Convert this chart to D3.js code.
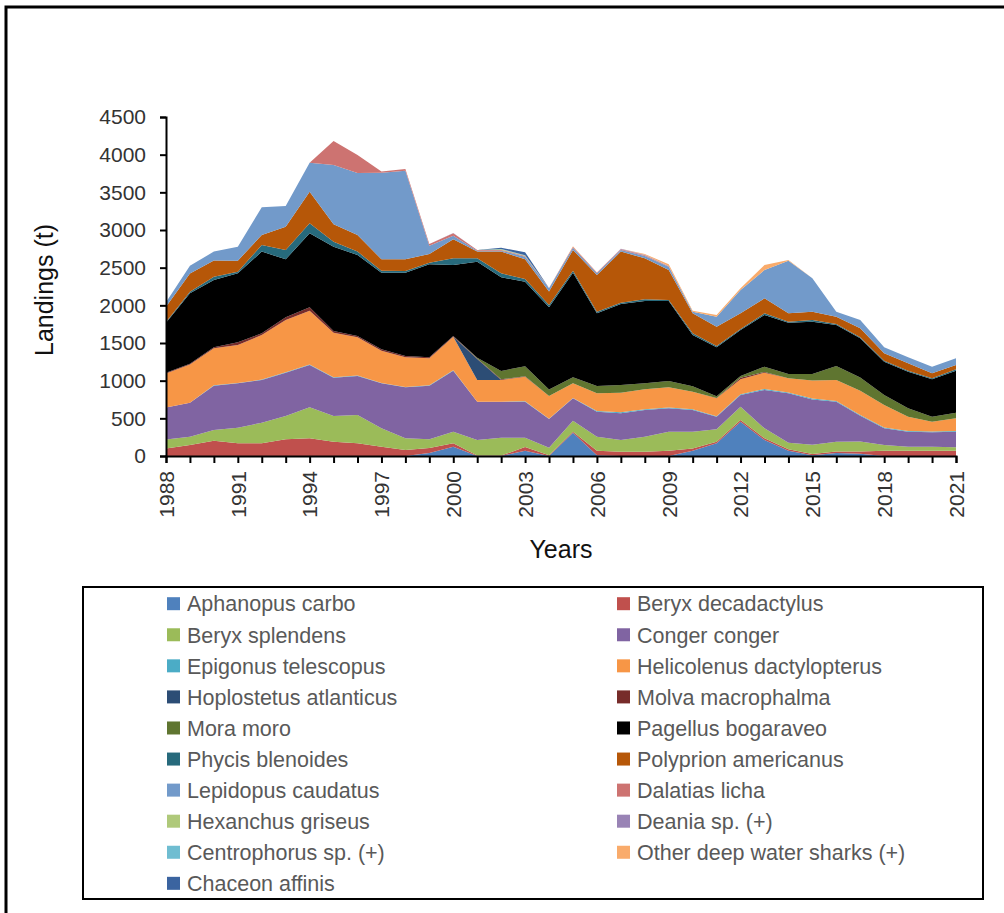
<!DOCTYPE html>
<html>
<head>
<meta charset="utf-8">
<script src="https://cdn.jsdelivr.net/npm/d3@7"></script>
<style>
  body { margin: 0; background: #fff; }
  svg { display: block; font-family: "Liberation Sans", Arial, sans-serif; }
</style>
</head>
<body>
<div id="chart"></div>
<script>
// years on the x axis
const years = d3.range(1988, 2022);
const yTicks = [0, 500, 1000, 1500, 2000, 2500, 3000, 3500, 4000, 4500];
const xTickLabels = [1988, 1991, 1994, 1997, 2000, 2003, 2006, 2009, 2012, 2015, 2018, 2021];

// species, in stacking order (bottom first)
const species = [
  'Aphanopus carbo', 'Beryx decadactylus', 'Beryx splendens', 'Conger conger',
  'Epigonus telescopus', 'Helicolenus dactylopterus', 'Hoplostetus atlanticus',
  'Molva macrophalma', 'Mora moro', 'Pagellus bogaraveo', 'Phycis blenoides',
  'Polyprion americanus', 'Lepidopus caudatus', 'Dalatias licha', 'Hexanchus griseus',
  'Deania sp. (+)', 'Centrophorus sp. (+)', 'Other deep water sharks (+)', 'Chaceon affinis'
];

const colors = [
  '#4f81bd', '#c0504d', '#9bbb59', '#8064a2', '#4bacc6', '#f79646', '#2c4d75',
  '#772c2a', '#5f7530', '#000000', '#276a7c', '#b65708', '#729aca', '#cd7371',
  '#afc97a', '#9983b5', '#6fbdd1', '#f9ab6b', '#3b64a0'
];

// landings (t) per year, 1988-2021
const aphanopus   = [0,0,0,0,0,0,0,0,0,0,0,40,124,0,0,70,0,310,10,0,0,0,70,168,456,212,71,10,40,30,0,0,0,0];
const beryxDec    = [100,146,204,168,168,221,235,190,168,124,80,65,44,5,5,50,10,13,60,57,57,70,30,22,22,23,17,17,20,30,70,70,70,70];
const beryxSpl    = [120,110,140,208,274,310,411,341,376,243,155,116,155,207,238,123,100,146,187,155,200,253,221,164,177,132,89,124,130,134,76,54,54,45];
const conger      = [425,450,590,589,567,575,562,509,518,598,677,713,810,509,478,478,380,297,331,354,354,310,288,168,155,509,655,598,531,340,221,199,190,208];
const epigonus    = [0,0,5,5,5,5,5,5,5,5,5,5,5,0,0,5,5,5,10,15,10,10,10,5,10,15,10,15,10,10,10,10,10,10];
const helicolenus = [450,510,490,503,592,694,716,592,508,428,393,358,446,288,288,327,301,194,234,260,264,269,233,238,198,215,189,237,278,322,300,189,132,167];
const hoplostetus = [0,0,0,0,0,0,0,0,0,0,0,0,0,280,0,0,0,0,0,0,0,0,0,0,0,0,0,0,0,0,0,0,0,0];
const molva       = [10,10,15,36,22,36,45,22,18,18,17,15,10,5,10,5,0,0,0,0,0,0,0,5,22,10,0,0,0,0,0,0,0,0];
const mora        = [0,0,0,0,0,0,0,0,0,0,0,0,0,10,110,133,88,79,97,102,80,84,75,22,22,70,58,88,186,177,133,111,66,75];
const pagellus    = [665,933,892,916,1085,770,982,1120,1075,1018,1107,1232,942,1276,1243,1123,1090,1390,965,1075,1093,1062,679,651,611,686,681,694,544,519,442,487,496,558];
const phycis      = [10,20,45,22,88,124,133,66,45,26,22,22,88,44,53,36,30,26,22,17,22,13,22,17,13,22,13,22,13,13,14,13,13,17];
const polyprion   = [200,245,213,146,133,309,420,230,221,151,155,115,252,89,288,261,178,275,487,678,544,398,266,257,208,199,111,111,98,120,97,97,66,58];
const lepidopus   = [60,100,120,186,367,275,385,788,823,1150,1177,110,49,10,13,35,44,31,22,22,31,44,22,133,310,376,699,443,66,110,80,80,89,89];
const dalatias    = [0,0,0,0,0,0,0,319,239,14,22,22,31,10,10,10,5,13,10,10,10,5,0,0,0,0,0,0,0,0,0,0,0,0];
const hexanchus   = [0,0,0,0,0,0,0,0,0,0,0,0,0,0,8,5,0,0,0,0,0,0,0,0,0,0,0,0,0,0,0,0,0,0];
const deania      = [0,0,0,0,0,0,0,0,0,0,0,0,5,0,0,0,0,0,0,5,5,5,0,0,0,0,0,0,0,0,0,0,0,0];
const centrophorus= [0,0,0,0,0,0,0,0,0,0,0,0,0,0,5,5,0,0,0,0,0,0,0,0,0,0,0,0,0,0,0,0,0,0];
const otherSharks = [0,0,0,0,0,0,0,0,0,0,0,0,0,0,0,0,0,5,0,0,10,23,13,22,22,67,9,0,0,0,0,0,0,0];
const chaceon     = [0,0,0,0,0,0,0,0,0,0,0,0,0,0,15,40,0,0,0,0,0,0,0,0,0,0,0,0,0,0,0,0,0,0];

const series = [aphanopus, beryxDec, beryxSpl, conger, epigonus, helicolenus, hoplostetus,
  molva, mora, pagellus, phycis, polyprion, lepidopus, dalatias, hexanchus, deania,
  centrophorus, otherSharks, chaceon];

const table = years.map((yr, i) => {
  const row = { year: yr };
  species.forEach((s, k) => { row[s] = series[k][i]; });
  return row;
});

const width = 1004, height = 913;
const svg = d3.select('#chart').append('svg')
  .attr('width', width)
  .attr('height', height);

// outer frame (only top and left edges visible)
svg.append('rect')
  .attr('x', 6).attr('y', 7)
  .attr('width', 1100).attr('height', 1000)
  .attr('fill', 'none')
  .attr('stroke', '#000')
  .attr('stroke-width', 3);

const x = d3.scaleLinear().domain([1988, 2021]).range([166, 956]);
const y = d3.scaleLinear().domain([0, 4500]).range([456, 117]);

const stacked = d3.stack().keys(species)(table);

const area = d3.area()
  .x(d => x(d.data.year))
  .y0(d => y(d[0]))
  .y1(d => y(d[1]));

svg.append('g')
  .selectAll('path')
  .data(stacked)
  .enter().append('path')
  .attr('d', area)
  .attr('fill', (d, i) => colors[i]);

// y axis
const yAxis = svg.append('g')
  .attr('transform', `translate(${x(1988)},0)`)
  .call(d3.axisLeft(y).tickValues(yTicks).tickSize(6).tickPadding(14).tickFormat(d3.format('d')));
yAxis.select('.domain').attr('stroke', '#000').attr('stroke-width', 2);
yAxis.selectAll('.tick line').attr('stroke', '#000').attr('stroke-width', 2);
yAxis.selectAll('.tick text')
  .attr('font-size', 21)
  .attr('fill', '#333')
  .attr('font-family', '"Liberation Sans", Arial, sans-serif');

// x axis, a tick per year and a label every third year
const xAxis = svg.append('g')
  .attr('transform', `translate(0,${y(0)})`)
  .call(d3.axisBottom(x).tickValues(years).tickSize(7).tickFormat(d => xTickLabels.includes(d) ? d : ''));
xAxis.select('.domain').attr('stroke', '#000').attr('stroke-width', 2);
xAxis.selectAll('.tick line').attr('stroke', '#000').attr('stroke-width', 2);
xAxis.selectAll('.tick text')
  .attr('font-size', 21)
  .attr('fill', '#333')
  .attr('font-family', '"Liberation Sans", Arial, sans-serif')
  .attr('transform', 'rotate(-90)')
  .attr('text-anchor', 'end')
  .attr('dy', '0.35em')
  .attr('x', -15)
  .attr('y', 0);

// axis titles
svg.append('text')
  .attr('transform', 'translate(53,290) rotate(-90)')
  .attr('text-anchor', 'middle')
  .attr('font-size', 25)
  .attr('fill', '#111')
  .text('Landings (t)');

svg.append('text')
  .attr('x', 561).attr('y', 558)
  .attr('text-anchor', 'middle')
  .attr('font-size', 25)
  .attr('fill', '#111')
  .text('Years');

// legend
svg.append('rect')
  .attr('x', 83).attr('y', 587)
  .attr('width', 900).attr('height', 312)
  .attr('fill', '#fff')
  .attr('stroke', '#000')
  .attr('stroke-width', 2);

const legendItem = svg.append('g')
  .selectAll('g')
  .data(species)
  .enter().append('g')
  .attr('transform', (d, i) => `translate(${i % 2 === 0 ? 167 : 617},${603.7 + Math.floor(i / 2) * 31.07})`);

legendItem.append('rect')
  .attr('x', 0).attr('y', -6.5)
  .attr('width', 13).attr('height', 13)
  .attr('fill', (d, i) => colors[i]);

legendItem.append('text')
  .attr('x', 20)
  .attr('dy', '0.36em')
  .attr('font-size', 21.5)
  .attr('fill', '#595959')
  .text(d => d);
</script>
</body>
</html>
